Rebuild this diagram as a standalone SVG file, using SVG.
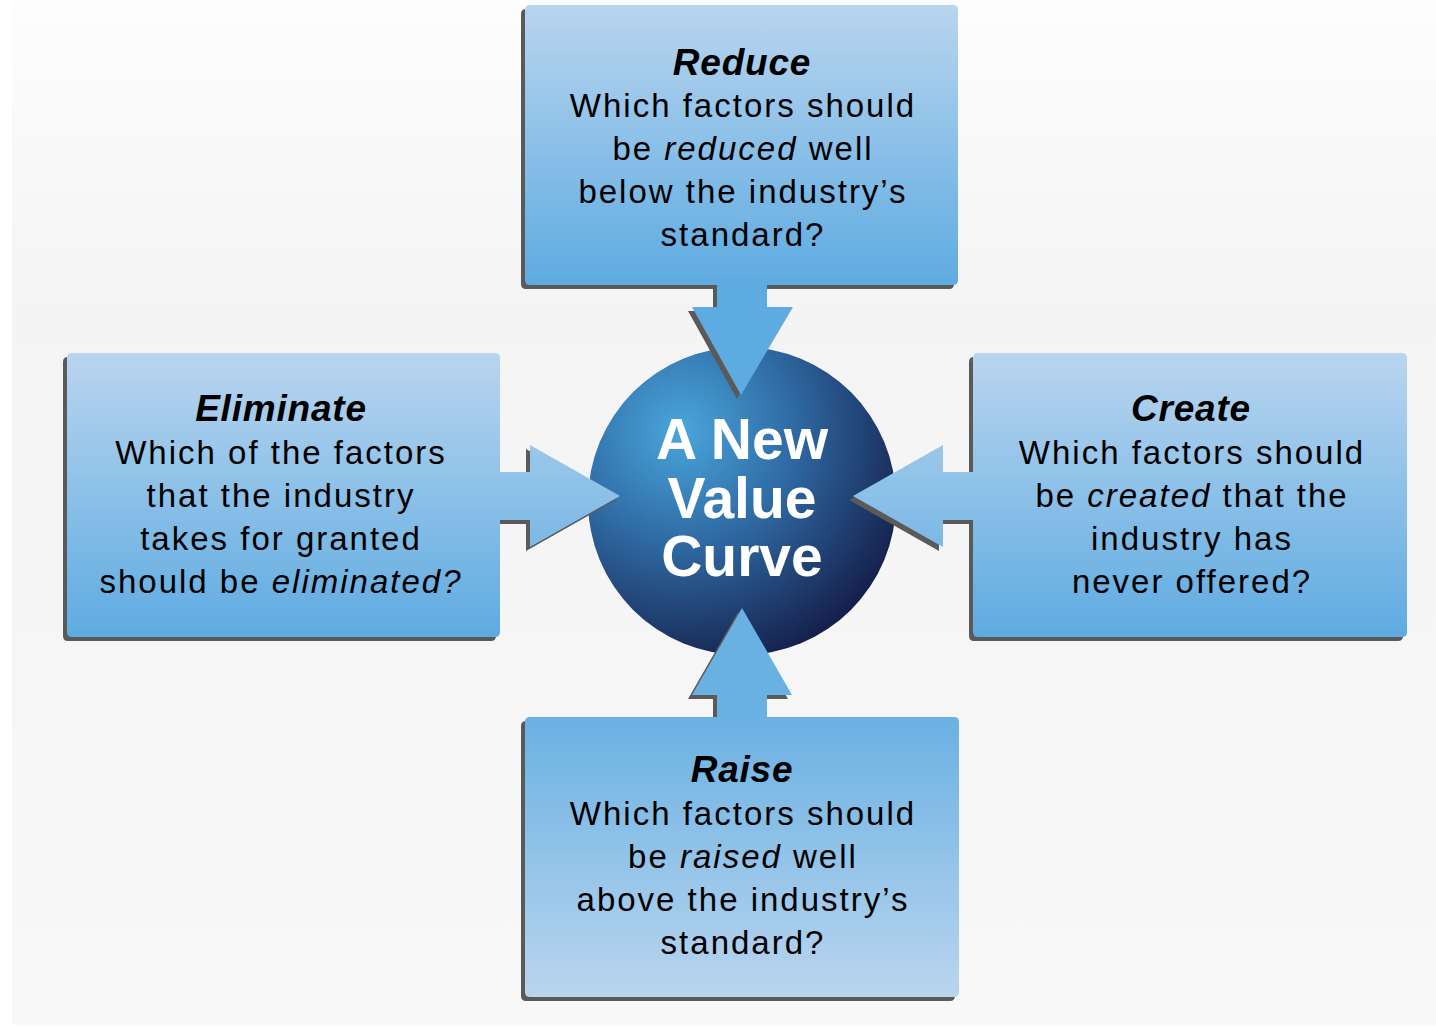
<svg xmlns="http://www.w3.org/2000/svg" xmlns:xlink="http://www.w3.org/1999/xlink" width="1436" height="1029" viewBox="0 0 1436 1029">
<style>
.title{font-family:"Liberation Sans",Arial,sans-serif;font-weight:bold;font-style:italic;font-size:37px;letter-spacing:0.8px;fill:#000;text-anchor:middle}
.body{font-family:"Liberation Sans",Arial,sans-serif;font-size:33px;letter-spacing:2px;fill:#000;text-anchor:middle}
.it{font-style:italic}
.core{font-family:"Liberation Sans",Arial,sans-serif;font-weight:bold;font-size:57px;fill:#fff;text-anchor:middle}
.shadow{fill:#5a5a5a}
</style>
<defs>
<linearGradient id="bg" x1="0" y1="0" x2="0" y2="1">
<stop offset="0" stop-color="#fdfdfd"/>
<stop offset="0.3" stop-color="#f4f4f4"/>
<stop offset="1" stop-color="#f8f8f8"/>
</linearGradient>
<linearGradient id="gTop" gradientUnits="userSpaceOnUse" x1="0" y1="5" x2="0" y2="285">
<stop offset="0" stop-color="#b9d5ef"/>
<stop offset="1" stop-color="#5eabe1"/>
</linearGradient>
<linearGradient id="gLeft" gradientUnits="userSpaceOnUse" x1="0" y1="353" x2="0" y2="637">
<stop offset="0" stop-color="#b9d5ef"/>
<stop offset="1" stop-color="#5eabe1"/>
</linearGradient>
<linearGradient id="gRight" gradientUnits="userSpaceOnUse" x1="0" y1="353" x2="0" y2="637">
<stop offset="0" stop-color="#b9d5ef"/>
<stop offset="1" stop-color="#5eabe1"/>
</linearGradient>
<linearGradient id="gBot" gradientUnits="userSpaceOnUse" x1="0" y1="717" x2="0" y2="997">
<stop offset="0" stop-color="#6ab1e3"/>
<stop offset="1" stop-color="#bad5ee"/>
</linearGradient>
<radialGradient id="gCore" cx="0.3" cy="0.27" r="0.82" fx="0.3" fy="0.27">
<stop offset="0" stop-color="#4aa6dd"/>
<stop offset="0.45" stop-color="#2f6aa3"/>
<stop offset="1" stop-color="#141c48"/>
</radialGradient>
<path id="pTop" d="M530,5 H953 Q958,5 958,10 V280 Q958,285 953,285 H767 V307 H793 L741,395 L692,307 H717 V285 H530 Q525,285 525,280 V10 Q525,5 530,5 Z"/>
<path id="pLeft" d="M72,353 H495 Q500,353 500,358 V472 H530 V445 L620,496 L530,547 V520 H500 V632 Q500,637 495,637 H72 Q67,637 67,632 V358 Q67,353 72,353 Z"/>
<path id="pRight" d="M978,353 H1402 Q1407,353 1407,358 V632 Q1407,637 1402,637 H978 Q973,637 973,632 V520 H943 V547 L853,496 L943,445 V472 H973 V358 Q973,353 978,353 Z"/>
<path id="pBot" d="M530,717 H717 V695 H692 L742,608 L792,695 H767 V717 H954 Q959,717 959,722 V992 Q959,997 954,997 H530 Q525,997 525,992 V722 Q525,717 530,717 Z"/>
</defs>
<rect x="0" y="0" width="1436" height="1029" fill="#ffffff"/>
<rect x="12" y="0" width="1424" height="1025" fill="url(#bg)"/>

<g id="core">
<circle cx="742" cy="501" r="154" fill="url(#gCore)"/>
<text class="core" x="742" y="459">A New</text>
<text class="core" x="742" y="518">Value</text>
<text class="core" x="742" y="576">Curve</text>
</g>

<g id="connectors">
<use xlink:href="#pTop" class="shadow" transform="translate(-4,4)"/>
<use xlink:href="#pLeft" class="shadow" transform="translate(-4,4)"/>
<use xlink:href="#pRight" class="shadow" transform="translate(-4,4)"/>
<use xlink:href="#pBot" class="shadow" transform="translate(-4,4)"/>
</g>

<g id="reduce">
<use xlink:href="#pTop" fill="url(#gTop)"/>
<text class="title" x="742" y="75">Reduce</text>
<text class="body" x="743" y="117">Which factors should</text>
<text class="body" x="743" y="160">be <tspan class="it">reduced</tspan> well</text>
<text class="body" x="743" y="203">below the industry’s</text>
<text class="body" x="743" y="246">standard?</text>
</g>

<g id="eliminate">
<use xlink:href="#pLeft" fill="url(#gLeft)"/>
<text class="title" x="281" y="421">Eliminate</text>
<text class="body" x="281" y="464">Which of the factors</text>
<text class="body" x="281" y="507">that the industry</text>
<text class="body" x="281" y="550">takes for granted</text>
<text class="body" x="281" y="593">should be <tspan class="it">eliminated?</tspan></text>
</g>

<g id="create">
<use xlink:href="#pRight" fill="url(#gRight)"/>
<text class="title" x="1191" y="421">Create</text>
<text class="body" x="1192" y="464">Which factors should</text>
<text class="body" x="1192" y="507">be <tspan class="it">created</tspan> that the</text>
<text class="body" x="1192" y="550">industry has</text>
<text class="body" x="1192" y="593">never offered?</text>
</g>

<g id="raise">
<use xlink:href="#pBot" fill="url(#gBot)"/>
<text class="title" x="742" y="782">Raise</text>
<text class="body" x="743" y="825">Which factors should</text>
<text class="body" x="743" y="868">be <tspan class="it">raised</tspan> well</text>
<text class="body" x="743" y="911">above the industry’s</text>
<text class="body" x="743" y="954">standard?</text>
</g>
</svg>
